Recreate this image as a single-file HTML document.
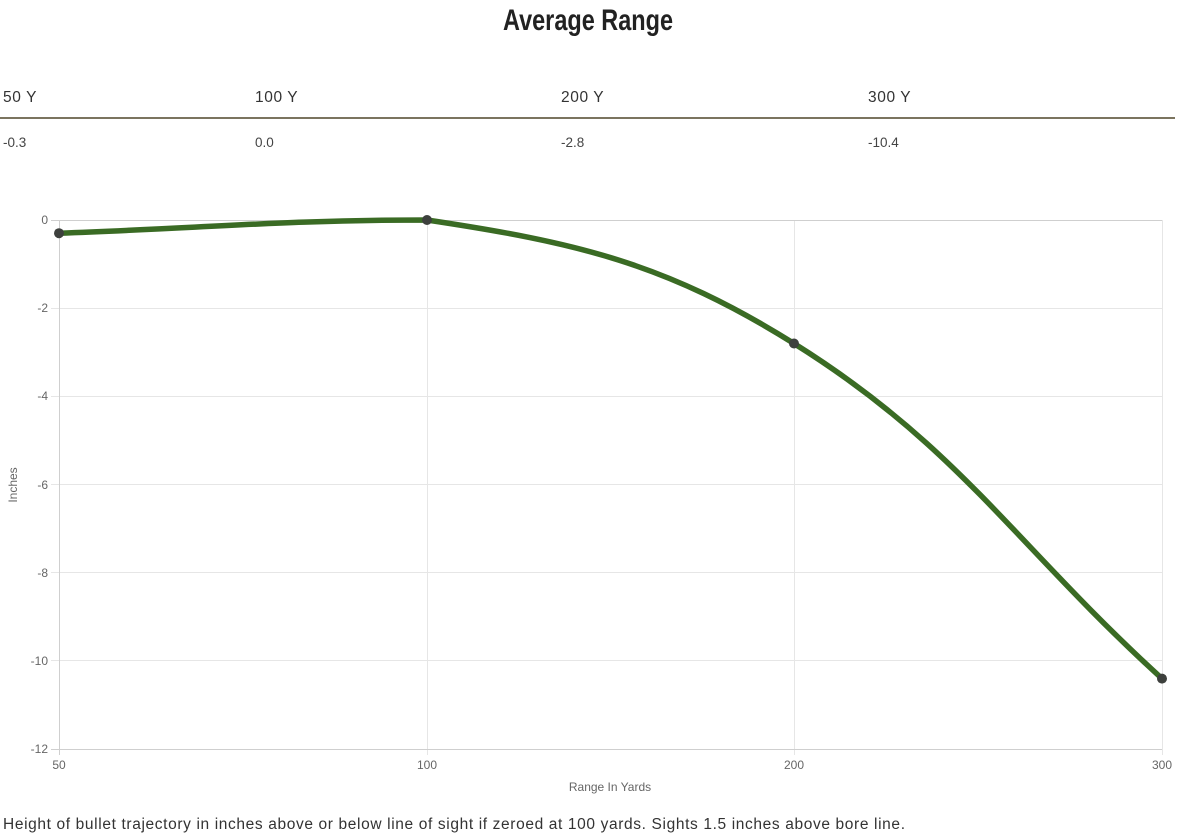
<!DOCTYPE html>
<html>
<head>
<meta charset="utf-8">
<style>
html,body{margin:0;padding:0;background:#fff;}
svg{display:block;}
text{font-family:"Liberation Sans",Arial,sans-serif;}
</style>
</head>
<body>
<svg width="1177" height="835" viewBox="0 0 1177 835" xmlns="http://www.w3.org/2000/svg">
  <rect width="1177" height="835" fill="#fff"/>
  <!-- Title -->
  <text x="503" y="30" font-size="30" font-weight="bold" fill="#222" textLength="170" lengthAdjust="spacingAndGlyphs">Average Range</text>

  <!-- Table header -->
  <g font-size="15.5" fill="#333" letter-spacing="0.6">
    <text x="3" y="102">50 Y</text>
    <text x="255" y="102">100 Y</text>
    <text x="561" y="102">200 Y</text>
    <text x="868" y="102">300 Y</text>
  </g>
  <rect x="0" y="117" width="1175" height="2" fill="#7b745f"/>
  <g font-size="13.5" fill="#444">
    <text x="3" y="147">-0.3</text>
    <text x="255" y="147">0.0</text>
    <text x="561" y="147">-2.8</text>
    <text x="868" y="147">-10.4</text>
  </g>

  <!-- Grid -->
  <g stroke="#e6e6e6" stroke-width="1">
    <line x1="51" y1="308.5" x2="1162" y2="308.5"/>
    <line x1="51" y1="396.5" x2="1162" y2="396.5"/>
    <line x1="51" y1="484.5" x2="1162" y2="484.5"/>
    <line x1="51" y1="572.5" x2="1162" y2="572.5"/>
    <line x1="51" y1="660.5" x2="1162" y2="660.5"/>
    <line x1="427.5" y1="220" x2="427.5" y2="755"/>
    <line x1="794.5" y1="220" x2="794.5" y2="755"/>
    <line x1="1162.5" y1="220" x2="1162.5" y2="755"/>
  </g>
  <g stroke="#cfcfcf" stroke-width="1">
    <line x1="51" y1="220.5" x2="1162" y2="220.5"/>
    <line x1="51" y1="749.5" x2="1162" y2="749.5"/>
    <line x1="59.5" y1="220" x2="59.5" y2="755"/>
  </g>

  <!-- Y tick labels -->
  <g font-size="12" fill="#666" text-anchor="end">
    <text x="48" y="224">0</text>
    <text x="48" y="312">-2</text>
    <text x="48" y="400">-4</text>
    <text x="48" y="489">-6</text>
    <text x="48" y="577">-8</text>
    <text x="48" y="665">-10</text>
    <text x="48" y="753">-12</text>
  </g>
  <!-- X tick labels -->
  <g font-size="12" fill="#666" text-anchor="middle">
    <text x="59" y="769">50</text>
    <text x="427" y="769">100</text>
    <text x="794" y="769">200</text>
    <text x="1162" y="769">300</text>
  </g>
  <text x="610" y="791" font-size="12" fill="#666" text-anchor="middle">Range In Yards</text>
  <text transform="translate(17,485) rotate(-90)" font-size="12" fill="#666" text-anchor="middle">Inches</text>

  <!-- Series -->
  <path d="M59,233.2 C206.2,227.9 283.7,220 427,220 C577.7,242.6 665.4,263.2 794,343.5 C959.3,446.7 1014.8,544.6 1162,678.6" fill="none" stroke="#3a6b24" stroke-width="5.5" stroke-linejoin="round" stroke-linecap="round"/>
  <g fill="#3d403d">
    <circle cx="59" cy="233.2" r="5"/>
    <circle cx="427" cy="220" r="5"/>
    <circle cx="794" cy="343.5" r="5"/>
    <circle cx="1162" cy="678.6" r="5"/>
  </g>

  <!-- Footnote -->
  <text x="3" y="829" font-size="15.5" fill="#333" textLength="902" lengthAdjust="spacing">Height of bullet trajectory in inches above or below line of sight if zeroed at 100 yards. Sights 1.5 inches above bore line.</text>
</svg>
</body>
</html>
